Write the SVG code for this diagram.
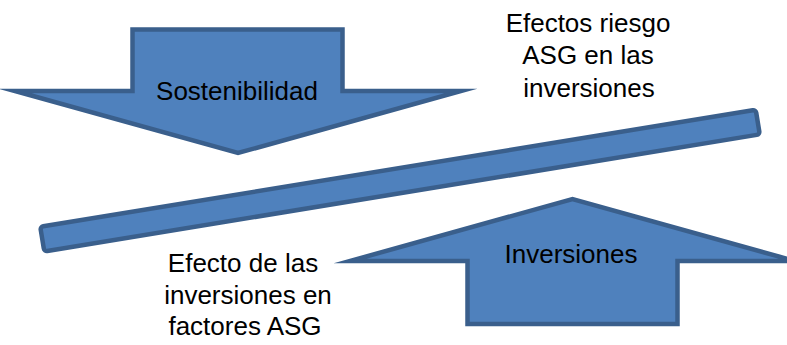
<svg xmlns="http://www.w3.org/2000/svg" width="787" height="345" viewBox="0 0 787 345">
<style>
.shape{fill:#4F81BD;stroke:#3A5F8C;stroke-width:4.5;stroke-linejoin:miter;stroke-miterlimit:10}
.lbl{font-family:"Liberation Sans",Arial,sans-serif;font-size:26px;fill:#000;text-anchor:middle}
</style>
<rect width="787" height="345" fill="#FFFFFF"/>
<g id="sostenibilidad">
<path class="shape" d="M132.5,29.5 H342.5 V91 H461 L238,153 L15,91 H132.5 Z"/>
<text class="lbl" x="237" y="100">Sostenibilidad</text>
</g>
<g id="balanza">
<rect class="shape" x="-362.5" y="-12.5" width="725" height="25" rx="3" ry="3" transform="translate(400,180.6) rotate(-9.29)"/>
</g>
<g id="inversiones">
<path class="shape" d="M467.5,324 H677.5 V261 H795 L572.5,199 L350,261 H467.5 Z"/>
<text class="lbl" x="571" y="263">Inversiones</text>
</g>
<g id="efectos-riesgo">
<text class="lbl" x="588" y="31.7">Efectos riesgo</text>
<text class="lbl" x="588" y="64">ASG en las</text>
<text class="lbl" x="589" y="96.5">inversiones</text>
</g>
<g id="efecto-inversiones">
<text class="lbl" x="243" y="271.7">Efecto de las</text>
<text class="lbl" x="248" y="303.5">inversiones en</text>
<text class="lbl" x="245" y="335">factores ASG</text>
</g>
<g id="connectors"></g>
</svg>
